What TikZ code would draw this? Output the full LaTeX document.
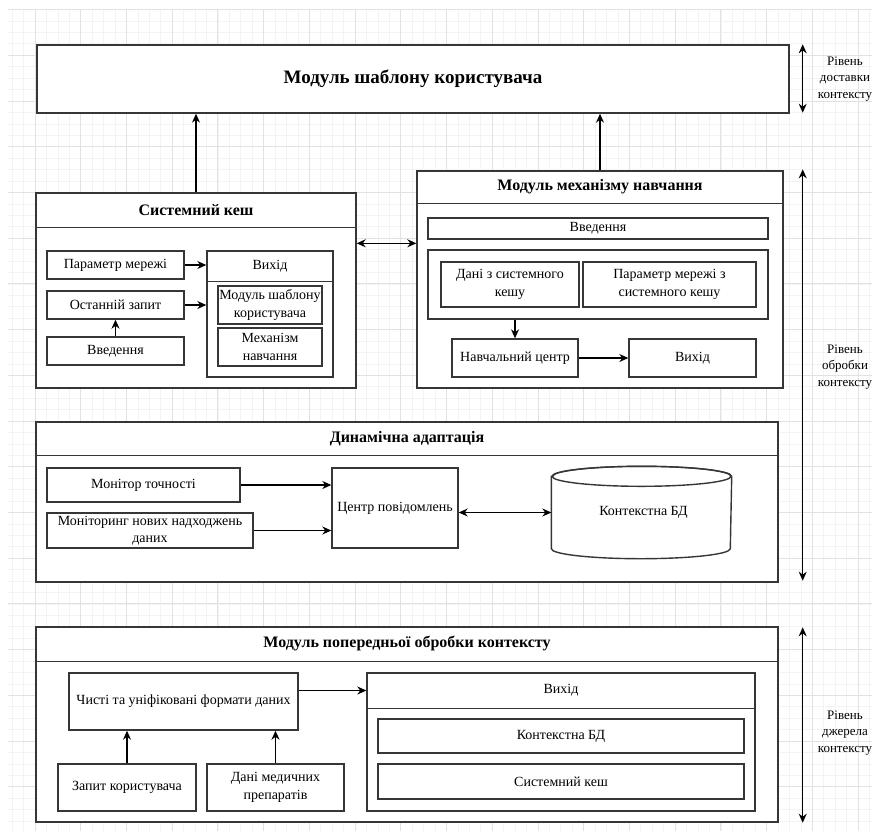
\documentclass[tikz,border=0pt]{standalone}
\usepackage{fontspec}
\setmainfont{Liberation Serif}
\usetikzlibrary{arrows.meta,calc}

\definecolor{linegray}{HTML}{363636}
\definecolor{gridminor}{HTML}{F3F3F3}
\definecolor{gridmajor}{HTML}{E2E2E2}

% box from corner (x1,y1) to (x2,y2), in pixel-like units
% #1 extra style, #2 name, #3 x1, #4 y1, #5 x2, #6 y2, #7 text
\newcommand\mkbox[7][]{%
  \node[box,#1,minimum width={(#5-#3)*1pt},minimum height={(#6-#4)*1pt}]
    (#2) at ({(#3+#5)/2},{(#4+#6)/2}) {#7};}

\begin{document}
\begin{tikzpicture}[x=1pt,y=-1pt,
  boxline/.style={draw=linegray,line width=1.4pt},
  box/.style={boxline,fill=white,rectangle,inner sep=1pt,align=center,
    font=\fontsize{14}{17.5}\selectfont},
  plain/.style={draw=none,fill=none},
  title/.style={font=\fontsize{16}{19}\selectfont\bfseries},
  bigtitle/.style={font=\fontsize{19}{22}\selectfont\bfseries},
  tip/.tip={Stealth[length=9pt,width=8pt]},
  arr/.style={draw=black,line width=1.1pt,-tip},
  biarr/.style={draw=black,line width=1.1pt,tip-tip},
  lvl/.style={align=center,font=\fontsize{13}{16.5}\selectfont},
  gminor/.style={draw=gridminor,line width=0.6pt},
  gmajor/.style={draw=gridmajor,line width=0.8pt},
]
\useasboundingbox (0,0) rectangle (872,831);
\fill[white] (0,0) rectangle (872,831);

% background grid
\foreach \k in {-2,...,73} \draw[gminor] ({35+11.43*\k},9) -- ({35+11.43*\k},831);
\foreach \k in {0,...,72} \draw[gminor] (8,{9.5+11.43*\k}) -- (872,{9.5+11.43*\k});
\foreach \k in {0,...,18} \draw[gmajor] ({35+45.72*\k},9) -- ({35+45.72*\k},831);
\foreach \k in {0,...,18} \draw[gmajor] (8,{9.5+45.72*\k}) -- (872,{9.5+45.72*\k});

% ---- delivery level ----
\mkbox[bigtitle]{top}{37}{45}{789}{113}{Модуль шаблону користувача}

% ---- system cache ----
\mkbox{sk}{36}{193}{356}{388}{}
\draw[boxline] ($(sk.north west)+(0,35)$) -- ($(sk.north east)+(0,35)$);
\node[title] (skT) at ($(sk.north)+(0,17.5)$) {Системний кеш};
\mkbox{pm}{47}{251}{184}{279}{Параметр мережі}
\mkbox{oz}{47}{291}{184}{319}{Останній запит}
\mkbox{vv}{47}{337}{184}{365}{Введення}
\mkbox{vx}{207}{251}{333}{377}{}
\draw[boxline] ($(vx.north west)+(0,31)$) -- ($(vx.north east)+(0,31)$);
\node (vxT) at ($(vx.north)+(0,15.5)$) [font=\fontsize{14}{17.5}\selectfont] {Вихід};
\mkbox{msk}{218}{286}{322}{324}{Модуль шаблону\\користувача}
\mkbox{mmn}{218}{328}{322}{366}{Механізм\\навчання}

% ---- learning module ----
\mkbox{mm}{417}{171}{783}{388}{}
\draw[boxline] ($(mm.north west)+(0,33)$) -- ($(mm.north east)+(0,33)$);
\node[title] (mmT) at ($(mm.north)+(0,16.5)$) {Модуль механізму навчання};
\mkbox{mvv}{428}{218}{768}{239}{Введення}
\mkbox{mcont}{428}{250}{768}{319}{}
\mkbox{dsk}{441}{262}{579}{307}{Дані з системного\\кешу}
\mkbox{pms}{583}{262}{756}{307}{Параметр мережі з\\системного кешу}
\mkbox{nc}{452}{339}{578}{377}{Навчальний центр}
\mkbox{mvx}{629}{339}{756}{377}{Вихід}

% ---- dynamic adaptation ----
\mkbox{dyn}{36}{422}{778}{582}{}
\draw[boxline] ($(dyn.north west)+(0,34)$) -- ($(dyn.north east)+(0,34)$);
\node[title] (dynT) at ($(dyn.north)+(0,17)$) {Динамічна адаптація};
\mkbox{mt}{47}{468}{240}{502}{Монітор точності}
\mkbox{mnd}{47}{513}{253}{548}{Моніторинг нових надходжень\\даних}
\mkbox{cp}{332}{468}{458}{548}{Центр повідомлень}
\mkbox[plain]{db}{552}{467}{731}{558}{}
\draw[boxline,fill=white] ($(db.north west)+(0,10)$) -- ($(db.south west)+(0,-10)$)
  arc[start angle=180,end angle=360,x radius=89.5pt,y radius=10pt]
  -- ($(db.north east)+(0,10)$)
  arc[start angle=0,end angle=180,x radius=89.5pt,y radius=10pt] -- cycle;
\draw[boxline] ($(db.north)+(0,10)$) ellipse[x radius=89.5pt,y radius=10pt];
\node[font=\fontsize{14}{17.5}\selectfont] (dbT) at ($(db.center)+(2,0)$) {Контекстна БД};

% ---- preprocessing module ----
\mkbox{pre}{36}{627}{778}{822}{}
\draw[boxline] ($(pre.north west)+(0,35)$) -- ($(pre.north east)+(0,35)$);
\node[title] (preT) at ($(pre.north)+(0,17.5)$) {Модуль попередньої обробки контексту};
\mkbox{ch}{69}{673}{298}{730}{Чисті та уніфіковані формати даних}
\mkbox{zk}{58}{764}{196}{811}{Запит користувача}
\mkbox{dmp}{207}{764}{344}{811}{Дані медичних\\препаратів}
\mkbox{vc}{367}{673}{755}{811}{}
\mkbox[plain]{vh}{367}{673}{755}{708}{Вихід}
\draw[boxline] (vh.south west) -- (vh.south east);
\mkbox{kbd}{378}{719}{744}{753}{Контекстна БД}
\mkbox{sk2}{378}{764}{744}{799}{Системний кеш}

% ---- connectors ----
\coordinate (skr) at ($(sk.north east)+(0,51)$);
\coordinate (chr) at ($(ch.east)+(0,-11)$);
\draw[arr] (sk.north) -- (sk.north |- top.south);
\draw[arr] (mm.north) -- (top.south -| mm.north);
\draw[biarr] (skr) -- (skr -| mm.west);
\draw[arr] (pm.east) -- (pm.east -| vx.west);
\draw[arr] (oz.east) -- (oz.east -| vx.west);
\draw[arr] (vv.north) -- (oz.south);
\draw[arr] (nc.north |- mcont.south) -- (nc.north);
\draw[arr] (nc.east) -- (mvx.west);
\draw[arr] (mt.east) -- (mt.east -| cp.west);
\draw[arr] (mnd.east) -- (mnd.east -| cp.west);
\draw[biarr] (cp.east |- db.west) -- (db.west);
\draw[arr] (chr) -- (chr -| vh.west);
\draw[arr] (zk.north) -- (zk.north |- ch.south);
\draw[arr] (dmp.north) -- (dmp.north |- ch.south);

% ---- level markers ----
\coordinate (m1a) at ($(top.north east)+(13,0)$);
\coordinate (m1b) at ($(top.south east)+(13,-1)$);
\coordinate (m2a) at ($(mm.north east)+(19,-1)$);
\coordinate (m2b) at ($(dyn.south east)+(24,-2)$);
\coordinate (m3a) at ($(pre.north east)+(24,1)$);
\coordinate (m3b) at ($(pre.south east)+(24,0)$);
\draw[biarr] (m1a) -- (m1b);
\draw[biarr] (m2a) -- (m2b);
\draw[biarr] (m3a) -- (m3b);
\node[lvl] (l1) at (845,79) {Рівень\\доставки\\контексту};
\node[lvl] (l2) at (845,367) {Рівень\\обробки\\контексту};
\node[lvl] (l3) at (845,733) {Рівень\\джерела\\контексту};
\end{tikzpicture}
\end{document}
